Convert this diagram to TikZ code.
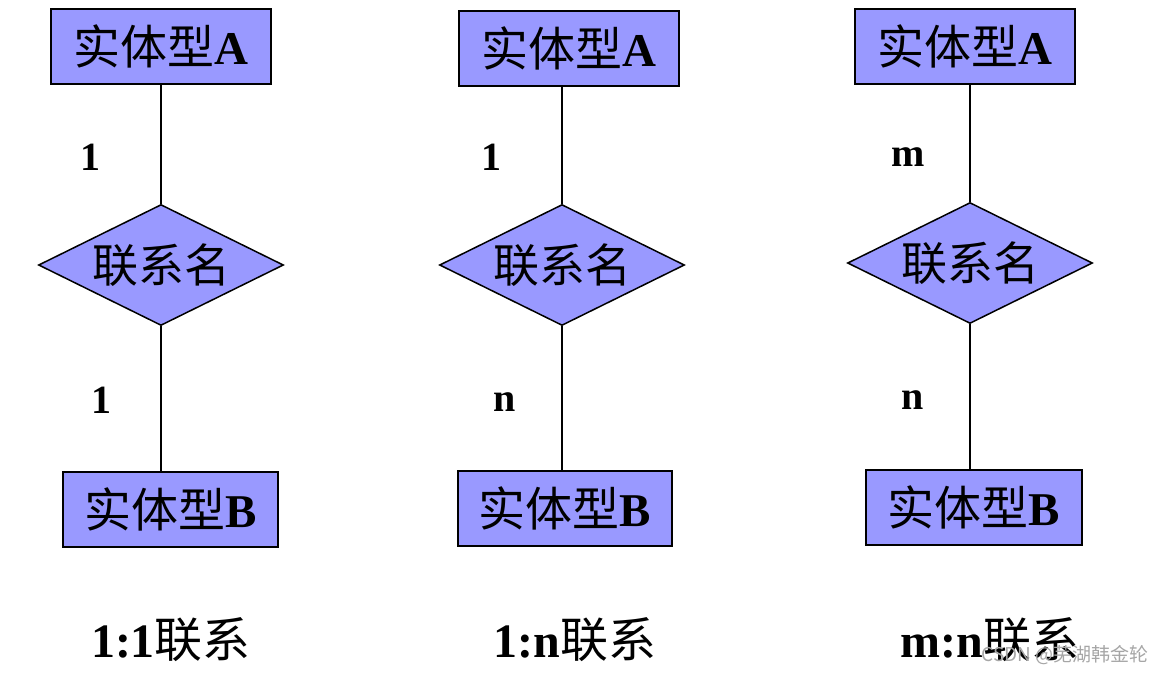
\documentclass[tikz,border=0pt]{standalone}
\usepackage{fontspec}
\setmainfont{Liberation Serif}
\newfontfamily\cjk{Noto Sans CJK SC}
\usetikzlibrary{shapes.geometric}
\definecolor{boxfill}{HTML}{9999FF}
\begin{document}
\begin{tikzpicture}[x=1pt,y=-1pt,
  entity/.style={draw=black,line width=2pt,fill=boxfill,minimum width=220pt,minimum height=75pt,inner sep=0pt,font=\fontsize{47}{50}\selectfont},
  rel/.style={draw=black,line width=1.5pt,fill=boxfill,shape=diamond,aspect=2.4,minimum width=245pt,minimum height=121pt,inner sep=0pt,font=\fontsize{46}{50}\selectfont},
  card/.style={font=\fontsize{40}{44}\selectfont\bfseries},
  caption/.style={font=\fontsize{48}{52}\selectfont},
  conn/.style={line width=1.5pt}]
\useasboundingbox (0,0) rectangle (1165,673);
% column 1
\node[entity] (a1) at (161,46) {{\cjk 实体型}\textbf{A}};
\node[rel] (r1) at (161,265) {\cjk 联系名};
\node[entity,minimum width=215pt] (b1) at (170.5,509) {{\cjk 实体型}\textbf{B}};
\draw[conn] (a1.south) -- (r1.north);
\draw[conn] (r1.south) -- (r1.south |- b1.north);
\node[card] (c11) at (90,157) {1};
\node[card] (c12) at (101,400) {1};
\node[caption] (t1) at (171,640) {\textbf{1:1}{\cjk 联系}};
% column 2
\node[entity] (a2) at (568.5,48) {{\cjk 实体型}\textbf{A}};
\node[rel] (r2) at (562,265) {\cjk 联系名};
\node[entity,minimum width=214pt] (b2) at (565,508) {{\cjk 实体型}\textbf{B}};
\draw[conn] (r2.north |- a2.south) -- (r2.north);
\draw[conn] (r2.south) -- (r2.south |- b2.north);
\node[card] (c21) at (491,157) {1};
\node[card] (c22) at (505,402) {n};
\node[caption] (t2) at (575,640) {\textbf{1:n}{\cjk 联系}};
% column 3
\node[entity] (a3) at (964.5,46) {{\cjk 实体型}\textbf{A}};
\node[rel] (r3) at (970,263) {\cjk 联系名};
\node[entity,minimum width=216pt] (b3) at (974,507.5) {{\cjk 实体型}\textbf{B}};
\draw[conn] (r3.north |- a3.south) -- (r3.north);
\draw[conn] (r3.south) -- (r3.south |- b3.north);
\node[card] (c31) at (908,157) {m};
\node[card] (c32) at (913,400) {n};
\node[caption] (t3) at (990,640) {\textbf{m:n}{\cjk 联系}};
% watermark
\node[anchor=east,text=black!35,font=\cjk\fontsize{19}{22}\selectfont] (wm) at (1152,655) {CSDN @芜湖韩金轮};
\end{tikzpicture}
\end{document}
